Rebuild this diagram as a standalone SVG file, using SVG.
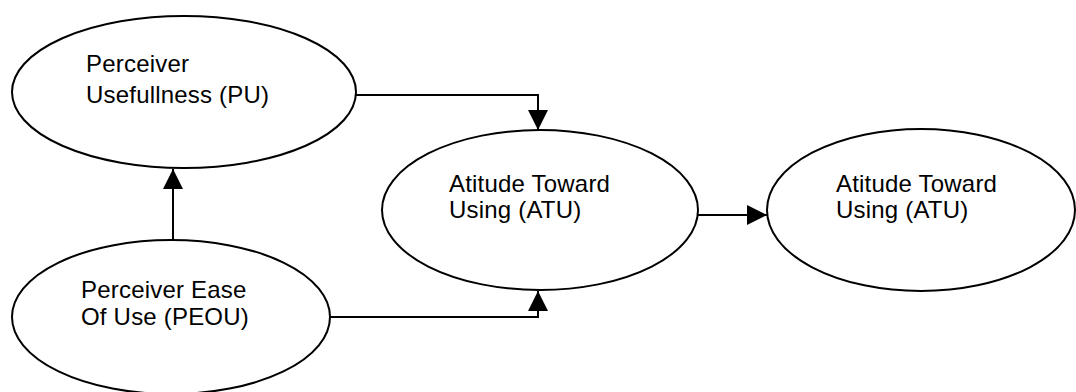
<svg xmlns="http://www.w3.org/2000/svg" width="1076" height="392" viewBox="0 0 1076 392">
  <style>
    .node ellipse { fill: #ffffff; stroke: #000000; stroke-width: 2; }
    .node text { font-family: "Liberation Sans", Arial, sans-serif; font-size: 24px; letter-spacing: 0.2px; fill: #000000; }
    .edge { fill: none; stroke: #000000; stroke-width: 2; marker-end: url(#arrow); }
  </style>
  <defs>
    <marker id="arrow" markerUnits="userSpaceOnUse" markerWidth="20" markerHeight="20" refX="20" refY="10" orient="auto">
      <path d="M0,0 L20,10 L0,20 Z" fill="#000000"/>
    </marker>
  </defs>
  <rect width="1076" height="392" fill="#ffffff"/>

  <g id="node-pu" class="node">
    <ellipse cx="184" cy="92" rx="172" ry="76"/>
    <text x="86" y="72">Perceiver</text>
    <text x="86" y="103">Usefullness (PU)</text>
  </g>

  <g id="node-peou" class="node">
    <ellipse cx="171" cy="317" rx="159" ry="77"/>
    <text x="81" y="298">Perceiver Ease</text>
    <text x="81" y="325">Of Use (PEOU)</text>
  </g>

  <g id="node-atu" class="node">
    <ellipse cx="540" cy="210" rx="158" ry="80"/>
    <text x="449" y="192">Atitude Toward</text>
    <text x="449" y="218">Using (ATU)</text>
  </g>

  <g id="node-atu-2" class="node">
    <ellipse cx="921" cy="210" rx="154" ry="81"/>
    <text x="836" y="192">Atitude Toward</text>
    <text x="836" y="218">Using (ATU)</text>
  </g>

  <g id="connectors">
    <path class="edge" d="M356,95 H538 V130"/>
    <path class="edge" d="M173,240 V169"/>
    <path class="edge" d="M330,317 H538 V291"/>
    <path class="edge" d="M698,215 H767"/>
  </g>
</svg>
